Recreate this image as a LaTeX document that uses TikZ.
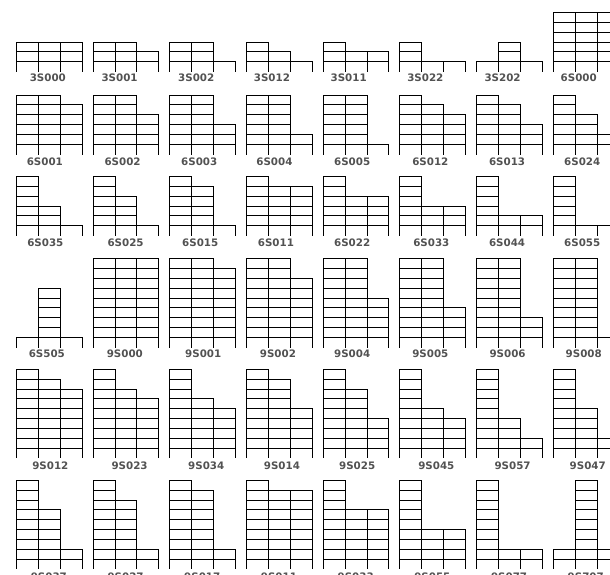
\documentclass[tikz,border=0pt]{standalone}
\usepackage{fontspec}
\setmainfont{DejaVu Sans}
\newfontfamily\labfont{DejaVu Sans Bold}
\begin{document}
\begin{tikzpicture}[x=1pt,y=-1pt,
  framel/.style={line width=1.6pt, black, line cap=rect},
  lab/.style={text=black!68, font=\labfont\fontsize{10.3}{10.3}\selectfont, inner sep=0pt, anchor=center}]
\useasboundingbox (0,0) rectangle (610,575);
\clip (0,0) rectangle (610,575);
\def\sh{9.8}
\def\bw{21.9}
\foreach \c/\r/\a/\b/\d/\t/\dx in {
 0/0/3/3/3/3S000/-1, 1/0/3/3/2/3S001/-6, 2/0/3/3/1/3S002/-6, 3/0/3/2/1/3S012/-7,
 4/0/3/2/2/3S011/-7, 5/0/3/1/1/3S022/-7, 6/0/1/3/1/3S202/-6.5, 7/0/6/6/6/6S000/-7,
 0/1/6/6/5/6S001/-4, 1/1/6/6/4/6S002/-3, 2/1/6/6/3/6S003/-3, 3/1/6/6/2/6S004/-4.5,
 4/1/6/6/1/6S005/-3.5, 5/1/6/5/4/6S012/-2, 6/1/6/5/3/6S013/-2, 7/1/6/4/2/6S024/-3.5,
 0/2/6/3/1/6S035/-3.5, 1/2/6/4/1/6S025/0, 2/2/6/5/1/6S015/-2, 3/2/6/5/5/6S011/-3,
 4/2/6/4/4/6S022/-3.5, 5/2/6/3/3/6S033/-1, 6/2/6/2/2/6S044/-2, 7/2/6/1/1/6S055/-3.5,
 0/3/1/6/1/6S505/-2, 1/3/9/9/9/9S000/-0.7, 2/3/9/9/8/9S001/1, 3/3/9/9/7/9S002/-1,
 4/3/9/9/5/9S004/-3.5, 5/3/9/9/4/9S005/-2, 6/3/9/9/3/9S006/-1.5, 7/3/9/9/1/9S008/-2,
 0/4/9/8/7/9S012/1.5, 1/4/9/7/6/9S023/4, 2/4/9/6/5/9S034/4, 3/4/9/8/5/9S014/3,
 4/4/9/7/4/9S025/1.5, 5/4/9/5/4/9S045/4, 6/4/9/4/2/9S057/3.5, 7/4/9/5/2/9S047/2,
 0/5/9/6/2/9S037/0, 1/5/9/7/2/9S027/0, 2/5/9/8/2/9S017/0, 3/5/9/8/8/9S011/0,
 4/5/9/6/6/9S033/0, 5/5/9/4/4/9S055/0, 6/5/9/2/2/9S077/0, 7/5/2/9/2/9S707/0}{
  \pgfmathsetmacro\xf{16+76.7*\c}
  \pgfmathsetmacro\xo{round(\xf)+0.5}
  \pgfmathsetmacro\xa{round(\xf+\bw)+0.5}
  \pgfmathsetmacro\xb{round(\xf+2*\bw)+0.5}
  \pgfmathsetmacro\xc{round(\xf+3*\bw)+0.5}
  \pgfmathsetmacro\yf{{71,153.5,235,346.7,457.3,568.3}[\r]}
  \pgfmathsetmacro\yo{round(\yf)}
  \pgfmathsetmacro\ly{{77.7,162,242.7,354,465.7,576.5}[\r]}
  \pgfmathtruncatemacro\mab{max(\a,\b)}
  \pgfmathtruncatemacro\mbd{max(\b,\d)}
  \pgfmathsetmacro\ya{round(\yf-\a*\sh)+0.5}
  \pgfmathsetmacro\yab{round(\yf-\mab*\sh)+0.5}
  \pgfmathsetmacro\ybd{round(\yf-\mbd*\sh)+0.5}
  \pgfmathsetmacro\yd{round(\yf-\d*\sh)+0.5}
  \draw[framel] (\xo,\yo) -- (\xo,\ya);
  \draw[framel] (\xa,\yo) -- (\xa,\yab);
  \draw[framel] (\xb,\yo) -- (\xb,\ybd);
  \draw[framel] (\xc,\yo) -- (\xc,\yd);
  \foreach \j in {1,...,\a} {\pgfmathsetmacro\yy{round(\yf-\j*\sh)+0.5}\draw[framel] (\xo,\yy) -- (\xa,\yy);}
  \foreach \j in {1,...,\b} {\pgfmathsetmacro\yy{round(\yf-\j*\sh)+0.5}\draw[framel] (\xa,\yy) -- (\xb,\yy);}
  \foreach \j in {1,...,\d} {\pgfmathsetmacro\yy{round(\yf-\j*\sh)+0.5}\draw[framel] (\xb,\yy) -- (\xc,\yy);}
  \node[lab] (L\r\c) at (\xf+1.5*\bw+\dx,\ly) {\t};
}
\end{tikzpicture}
\end{document}
